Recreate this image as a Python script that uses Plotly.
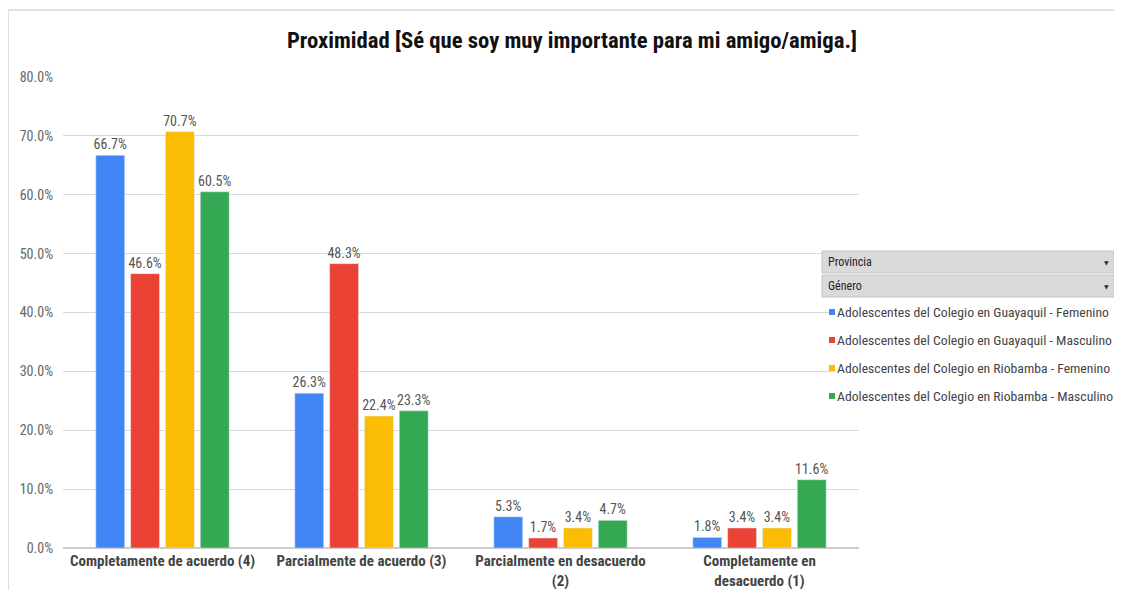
import plotly.graph_objects as go

## Data

categorias = ['Completamente de acuerdo (4)', 'Parcialmente de acuerdo (3)',
              'Parcialmente en desacuerdo<br>(2)', 'Completamente en<br>desacuerdo (1)']
series = ['Adolescentes del Colegio en Guayaquil - Femenino',
          'Adolescentes del Colegio en Guayaquil - Masculino',
          'Adolescentes del Colegio en Riobamba - Femenino',
          'Adolescentes del Colegio en Riobamba - Masculino']
gye_fem = [0.667, 0.263, 0.053, 0.018]
gye_mas = [0.466, 0.483, 0.017, 0.034]
rio_fem = [0.707, 0.224, 0.034, 0.034]
rio_mas = [0.605, 0.233, 0.047, 0.116]
colores = ['#4285F4', '#EA4335', '#FBBC04', '#34A853']

valores = [gye_fem, gye_mas, rio_fem, rio_mas]

## Layout helpers (reference pixel -> paper); page body adds an 8px margin

OFF = 8
W, H = 1122 - 2 * OFF, 598 - 2 * OFF
X0, X1, Y0, Y1 = 63, 859, 77, 548   # plot area in reference pixels
L, T = X0 - OFF, Y0 - OFF
R, B = W - (X1 - OFF), H - (Y1 - OFF)
RIGHT = W + OFF   # right edge of the figure in reference pixels

def px_x(x):
    return (x - X0) / (X1 - X0)

def px_y(y):
    return (Y1 - y) / (Y1 - Y0)

FONT = 'Liberation Sans Narrow, Arial Narrow, Roboto Condensed, Liberation Sans, Arial'

fig = go.Figure()
for nombre, vals, col in zip(series, valores, colores):
    fig.add_trace(go.Bar(
        x=categorias, y=vals, name=nombre, marker_color=col,
        text=[f'{v*100:.1f}%' for v in vals], textposition='outside',
        constraintext='none',
        textfont=dict(size=14, color='#555555'), cliponaxis=False,
    ))

fig.update_layout(
    width=W, height=H,
    margin=dict(l=L, r=R, t=T, b=B, autoexpand=False),
    paper_bgcolor='white', plot_bgcolor='white',
    font=dict(family=FONT, color='#555555'),
    barmode='group', bargap=0.30, bargroupgap=0.17,
    showlegend=False,
    title=dict(text='<b>Proximidad [Sé que soy muy importante para mi amigo/amiga.]</b>',
               xref='container', x=(572 - OFF) / W, xanchor='center',
               yref='container', y=1 - (40 - OFF) / H, yanchor='middle',
               font=dict(size=22.7, color='#111111', family=FONT)),
)
fig.update_yaxes(range=[0, 0.8], dtick=0.1, tickformat='.1%', showgrid=True,
                 gridcolor='#dadada', zeroline=True, zerolinecolor='#cccccc',
                 tickfont=dict(size=14, color='#666666'), ticks='', ticklen=0,
                 ticklabelstandoff=9)
fig.update_xaxes(tickfont=dict(size=15, color='#444444'), showline=False, ticks='',
                 tickprefix='<b>', ticksuffix='</b>', ticklabelstandoff=2)

# chart frame (top and left border)
fig.add_shape(type='line', xref='paper', yref='paper', x0=px_x(8), x1=px_x(RIGHT), y0=px_y(10), y1=px_y(10),
              line=dict(color='#d6d6d6', width=1.5))
fig.add_shape(type='line', xref='paper', yref='paper', x0=px_x(8), x1=px_x(8), y0=px_y(10), y1=px_y(598),
              line=dict(color='#d6d6d6', width=1.5))

# filter bars (Provincia / Género)
for etiqueta, ya, yb in [('Provincia', 251, 273), ('Género', 275, 297)]:
    fig.add_shape(type='rect', xref='paper', yref='paper', x0=px_x(822), x1=px_x(RIGHT),
                  y0=px_y(yb), y1=px_y(ya), line=dict(color='#c4c4c4', width=1),
                  fillcolor='#dadada')
    fig.add_annotation(xref='paper', yref='paper', x=px_x(826), y=px_y((ya + yb) / 2),
                       text=etiqueta, showarrow=False, xanchor='left', yanchor='middle',
                       font=dict(size=12, color='#222222', family=FONT))
    fig.add_annotation(xref='paper', yref='paper', x=px_x(RIGHT - 8), y=px_y((ya + yb) / 2),
                       text='▼', showarrow=False, xanchor='center', yanchor='middle',
                       font=dict(size=6, color='#333333', family='DejaVu Sans'))

# legend
for i, (nombre, col) in enumerate(zip(series, colores)):
    yc = 312 + 28 * i
    fig.add_shape(type='rect', xref='paper', yref='paper', x0=px_x(829), x1=px_x(835),
                  y0=px_y(yc + 3), y1=px_y(yc - 3), fillcolor=col, line=dict(width=0))
    fig.add_annotation(xref='paper', yref='paper', x=px_x(835), y=px_y(yc),
                       text=nombre, showarrow=False, xanchor='left', yanchor='middle',
                       bgcolor='white', borderpad=1,
                       font=dict(size=13.7, color='#444444', family=FONT))

fig.write_html('out.html')
